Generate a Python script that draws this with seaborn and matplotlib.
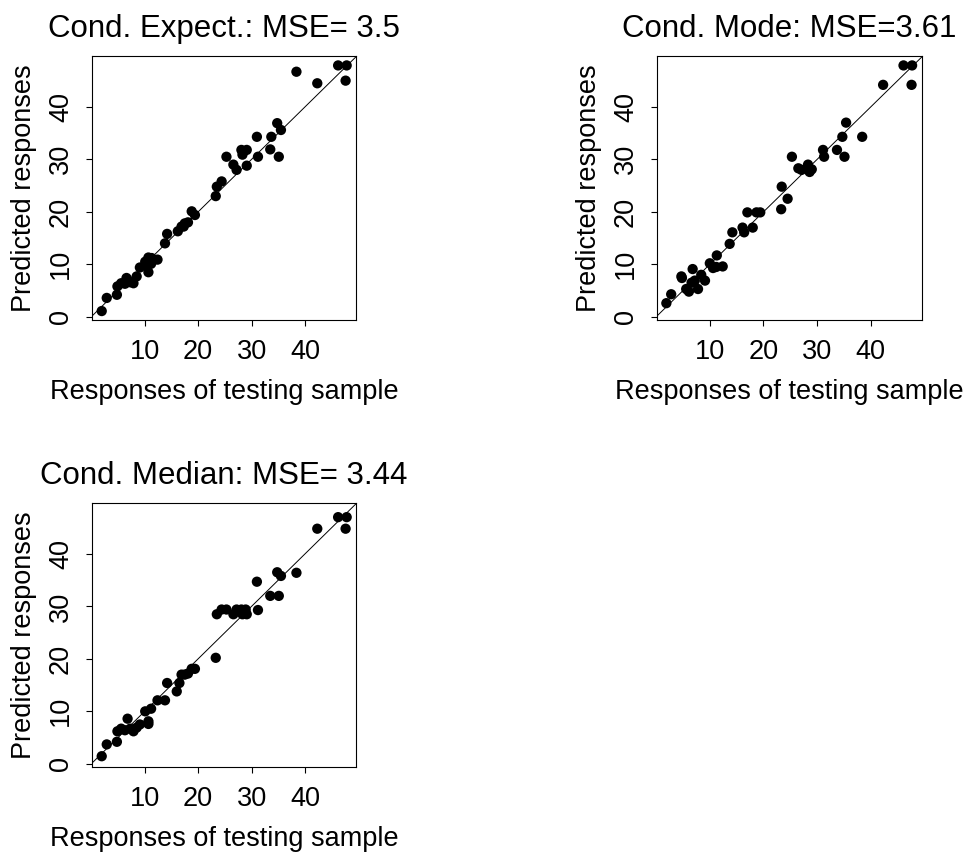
import matplotlib
matplotlib.use("Agg")
import matplotlib.pyplot as plt
import seaborn as sns
import pandas as pd

# --- data ---
titles = ["Cond. Expect.: MSE= 3.5", "Cond. Mode: MSE=3.61", "Cond. Median: MSE= 3.44"]

expect_x = [1.96, 2.9, 4.8, 4.9, 5.6, 6.3, 6.6, 7.2, 7.9, 8.5, 9.1, 10.1, 10.3, 10.7, 11.3,
            10.7, 11.2, 12.4, 13.8, 14.2, 16.2, 16.9, 17.5, 18.1, 17.3, 18.8, 19.4, 23.3,
            23.5, 24.4, 25.3, 26.6, 27.2, 28.1, 29.1, 28.3, 29.1, 31.0, 31.2, 33.5, 33.7,
            34.8, 35.5, 35.1, 38.4, 42.3, 46.2, 47.8, 47.6]
expect_y = [1.1, 3.6, 4.2, 5.8, 6.4, 6.3, 7.4, 6.6, 6.4, 7.7, 9.4, 10.5, 9.8, 11.3, 11.2,
            8.5, 10.1, 10.9, 14.0, 15.8, 16.3, 17.2, 17.8, 18.0, 17.2, 20.1, 19.4, 23.0,
            24.8, 25.8, 30.5, 29.0, 28.0, 31.8, 31.8, 30.9, 28.8, 34.3, 30.5, 31.9, 34.3,
            36.9, 35.6, 30.5, 46.7, 44.5, 47.9, 47.9, 45.0]

mode_x = [1.9, 2.8, 4.7, 4.8, 5.6, 6.1, 6.8, 6.6, 7.2, 7.8, 8.4, 9.1, 10.0, 10.6, 11.3,
          11.2, 12.4, 13.7, 14.2, 16.1, 16.4, 17.0, 18.0, 18.7, 19.4, 23.3, 23.4, 24.5,
          25.3, 26.5, 27.1, 28.3, 29.0, 28.6, 31.1, 31.3, 33.7, 34.7, 35.1, 35.4, 38.4,
          42.3, 46.1, 47.7, 47.6]
mode_y = [2.6, 4.3, 7.7, 7.4, 5.3, 4.8, 9.1, 6.5, 6.9, 5.3, 8.0, 6.9, 10.2, 9.3, 11.7,
          9.5, 9.6, 13.9, 16.1, 17.0, 16.1, 19.9, 17.0, 19.9, 19.9, 20.5, 24.8, 22.5,
          30.5, 28.3, 28.0, 29.0, 28.1, 27.6, 31.8, 30.5, 31.8, 34.3, 30.5, 37.0, 34.3,
          44.2, 47.9, 47.9, 44.2]

median_x = [1.96, 2.9, 4.8, 4.9, 5.6, 6.3, 6.8, 7.3, 7.9, 8.5, 9.1, 10.1, 10.7, 10.7,
            11.2, 12.4, 13.8, 14.2, 16.0, 16.5, 16.9, 17.5, 18.1, 18.8, 19.4, 23.3, 23.5,
            24.4, 25.3, 26.6, 27.2, 28.1, 28.9, 28.3, 29.1, 31.2, 31.0, 33.5, 35.1, 34.8,
            35.5, 38.4, 42.3, 46.2, 47.8, 47.6]
median_y = [1.45, 3.7, 4.2, 6.2, 6.7, 6.4, 8.6, 6.7, 6.2, 6.9, 7.5, 10.0, 7.6, 8.1,
            10.5, 12.1, 12.1, 15.4, 13.8, 15.4, 17.0, 17.0, 17.2, 18.1, 18.1, 20.2, 28.5,
            29.4, 29.4, 28.5, 29.4, 29.4, 29.4, 28.5, 28.5, 29.3, 34.7, 32.0, 32.0, 36.5,
            35.8, 36.4, 44.8, 47.0, 47.0, 44.8]

xticks = [10, 20, 30, 40]
yticks = [0, 10, 20, 30, 40]
xlim = (0.15, 49.55)
ylim = (-0.6, 49.7)

sns.set_style("white")
plt.rcParams['font.family'] = ['Liberation Sans', 'DejaVu Sans']
plt.rcParams['text.color'] = 'black'
plt.rcParams['axes.labelcolor'] = 'black'
plt.rcParams['xtick.color'] = 'black'
plt.rcParams['ytick.color'] = 'black'

fig = plt.figure(figsize=(9.73, 8.56), dpi=100)
positions = [
    [0.0946, 0.6262, 0.2713, 0.3084],
    [0.6752, 0.6262, 0.2724, 0.3084],
    [0.0946, 0.1040, 0.2713, 0.3084],
]
panels = [(expect_x, expect_y), (mode_x, mode_y), (median_x, median_y)]

for pos, title, (xs, ys) in zip(positions, titles, panels):
    ax = fig.add_axes(pos)
    df = pd.DataFrame({"obs": xs, "pred": ys})
    sns.scatterplot(data=df, x="obs", y="pred", ax=ax, color="black",
                    s=55, edgecolor="none", linewidth=0)
    ax.axline((0, 0), slope=1, color="black", lw=0.7)
    ax.set_xlim(*xlim)
    ax.set_ylim(*ylim)
    ax.set_xticks(xticks)
    ax.set_yticks(yticks)
    ax.set_yticklabels([str(t) for t in yticks], rotation=90, va="center")
    ax.tick_params(axis="both", direction="out", length=4, width=0.8,
                   labelsize=19.5, left=True, bottom=True)
    ax.tick_params(axis="x", pad=10)
    ax.tick_params(axis="y", pad=9)
    for sp in ax.spines.values():
        sp.set_color("black")
        sp.set_linewidth(0.8)
    ax.set_xlabel("Responses of testing sample", fontsize=19.5, labelpad=10)
    ax.set_ylabel("Predicted responses", fontsize=19.5, labelpad=8)
    ax.set_title(title, fontsize=22.5, pad=14)

fig.savefig("out.png", dpi=100)
